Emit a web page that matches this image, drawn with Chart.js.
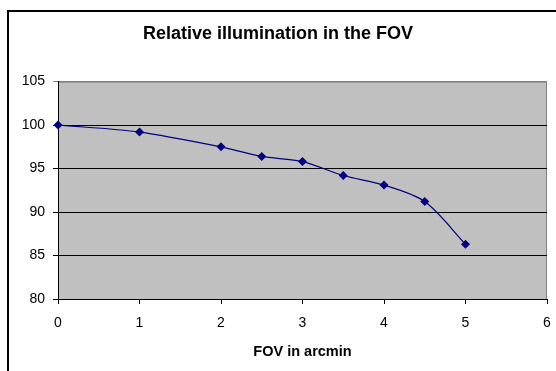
<!DOCTYPE html>
<html>
<head>
<meta charset="utf-8">
<script src="https://cdn.jsdelivr.net/npm/chart.js@4/dist/chart.umd.min.js"></script>
<style>
  html, body { margin: 0; padding: 0; background: #fff; overflow: hidden; }
  #frame {
    position: absolute; left: 7px; top: 10px;
    width: 560px; height: 370px;
    border-top: 2px solid #000; border-left: 2px solid #000;
  }
  #chart { display: block; }
</style>
</head>
<body>
<div id="frame"><canvas id="chart" width="547" height="359"></canvas></div>
<script>
const fovArcmin = [0, 1, 2, 2.5, 3, 3.5, 4, 4.5, 5];
const illumination = [100, 99.2, 97.5, 96.4, 95.8, 94.2, 93.1, 91.2, 86.3];
const chartTitle = "Relative illumination in the FOV";
const xTitle = "FOV in arcmin";

const FONT = "'Liberation Sans', Arial, sans-serif";

// fond gris de l'àrea de dibuix, com a l'Excel
const plotBg = {
  id: "plotBg",
  beforeDraw(chart) {
    const { ctx, chartArea: a } = chart;
    ctx.save();
    ctx.fillStyle = "#c0c0c0";
    ctx.fillRect(a.left, a.top, a.right - a.left, a.bottom - a.top);
    ctx.strokeStyle = "#808080";
    ctx.lineWidth = 1;
    ctx.beginPath();
    ctx.moveTo(a.left, a.top + 0.5);
    ctx.lineTo(a.right - 0.5, a.top + 0.5);
    ctx.lineTo(a.right - 0.5, a.bottom);
    ctx.stroke();
    ctx.restore();
  }
};

const points = fovArcmin.map((x, i) => ({ x, y: illumination[i] }));

new Chart(document.getElementById("chart"), {
  type: "scatter",
  data: {
    datasets: [{
      data: points,
      showLine: true,
      tension: 0.3,
      borderColor: "#000080",
      borderWidth: 1.2,
      backgroundColor: "#000080",
      pointStyle: "rectRot",
      pointRadius: 4.5,
      pointBorderWidth: 0,
      clip: false
    }]
  },
  options: {
    responsive: false,
    animation: false,
    layout: { padding: { top: 0, right: 9, bottom: 10, left: 0 } },
    plugins: {
      legend: { display: false },
      tooltip: { enabled: false },
      title: {
        display: true,
        text: chartTitle,
        color: "#000",
        font: { family: FONT, size: 18, weight: "bold" },
        padding: { top: 11, bottom: 37 }
      }
    },
    scales: {
      x: {
        type: "linear",
        min: 0, max: 6,
        ticks: { stepSize: 1, color: "#000", padding: 11, font: { family: FONT, size: 14 } },
        grid: { drawOnChartArea: false, color: "#000", tickLength: 5 },
        border: { color: "#000", width: 1 },
        title: {
          display: true, text: xTitle, color: "#000",
          font: { family: FONT, size: 14.5, weight: "bold" },
          padding: { top: 8, bottom: 0 }
        },
        afterFit(scale) {
          scale.height = 62;
          scale.paddingLeft = 0;
          scale.paddingRight = 4;
        }
      },
      y: {
        min: 80, max: 105,
        ticks: { stepSize: 5, color: "#000", padding: 8, font: { family: FONT, size: 14 } },
        grid: {
          color: ctx => (ctx.tick && ctx.tick.value === 105 ? "#808080" : "#000"),
          tickLength: 5
        },
        border: { color: "#000", width: 1 },
        afterFit(scale) { scale.width = 49; }
      }
    }
  },
  plugins: [plotBg]
});
</script>
</body>
</html>
